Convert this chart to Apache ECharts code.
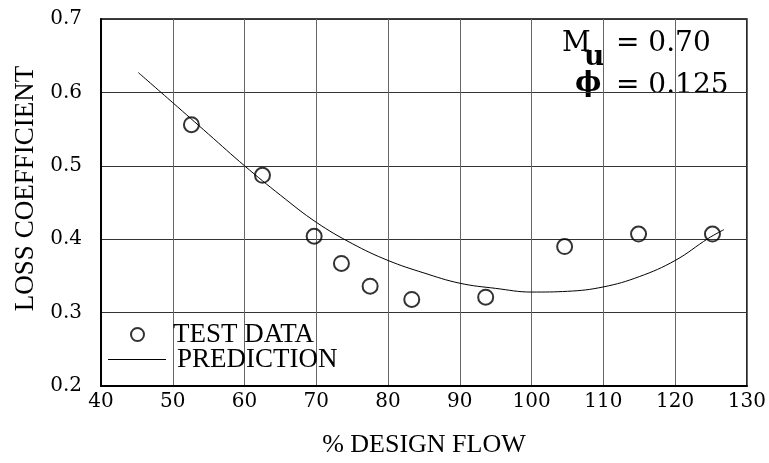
<!DOCTYPE html>
<html>
<head>
<meta charset="utf-8">
<script src="https://cdn.jsdelivr.net/npm/echarts@6/dist/echarts.min.js"></script>
<style>
html,body{margin:0;padding:0;background:#fff;}
#chart{width:769px;height:463px;}
</style>
</head>
<body>
<div id="chart"></div>
<script>
// Test data (x = % design flow, y = loss coefficient)
var testX = [52.6, 62.5, 69.7, 73.5, 77.5, 83.3, 93.6, 104.6, 114.9, 125.2];
var testY = [0.556, 0.487, 0.404, 0.367, 0.336, 0.318, 0.321, 0.390, 0.407, 0.407];
// Prediction curve
var predX = [45.2, 50, 55, 60, 65, 70, 75, 80, 85, 90, 95, 100, 105, 110, 115, 120, 124.6, 126.8];
var predY = [0.627, 0.586, 0.543, 0.500, 0.460, 0.423, 0.394, 0.371, 0.354, 0.340, 0.333, 0.328, 0.329, 0.335, 0.349, 0.371, 0.401, 0.413];
// Axis ticks
var xTicks = [40, 50, 60, 70, 80, 90, 100, 110, 120, 130];
var yTicks = [0.2, 0.3, 0.4, 0.5, 0.6, 0.7];

var serif = "'Liberation Serif', 'DejaVu Serif', serif";
var tickFont = "'DejaVu Serif', serif";

function pairs(xs, ys) { return xs.map(function (x, i) { return [x, ys[i]]; }); }

var chart = echarts.init(document.getElementById('chart'));
chart.setOption({
  animation: false,
  backgroundColor: '#fff',
  grid: { left: 101, right: 20, top: 19, bottom: 77, show: true, borderColor: '#000', borderWidth: 1.5 },
  xAxis: {
    type: 'value', min: xTicks[0], max: xTicks[xTicks.length - 1], interval: 10,
    name: '% DESIGN FLOW', nameLocation: 'middle', nameGap: 46,
    nameTextStyle: { fontFamily: serif, fontSize: 26, color: '#000' },
    axisLine: { lineStyle: { color: '#000', width: 2 } },
    axisTick: { show: false },
    axisLabel: { fontFamily: tickFont, fontSize: 20, color: '#000', margin: 6 },
    splitLine: { show: true, lineStyle: { color: '#666', width: 1 } }
  },
  yAxis: {
    type: 'value', min: yTicks[0], max: yTicks[yTicks.length - 1], interval: 0.1,
    name: 'LOSS COEFFICIENT', nameLocation: 'middle', nameGap: 53, nameRotate: 90,
    nameTextStyle: { fontFamily: serif, fontSize: 27, color: '#000', padding: [0, 0, 0, 28] },
    axisLine: { lineStyle: { color: '#000', width: 2 } },
    axisTick: { show: false },
    axisLabel: { fontFamily: tickFont, fontSize: 20, color: '#000', margin: 19,
      formatter: function (v) { return v.toFixed(1); } },
    splitLine: { show: true, lineStyle: { color: '#333', width: 1 } }
  },
  legend: [
    {
      data: ['TEST DATA'], left: 130, top: 321, padding: 0,
      itemWidth: 13, itemHeight: 13, icon: 'circle',
      itemStyle: { color: '#fff', borderColor: '#000', borderWidth: 2 },
      textStyle: { fontFamily: serif, fontSize: 27, color: '#000', padding: [0, 0, 0, 24] }
    },
    {
      data: ['PREDICTION'], left: 108, top: 346, padding: 0,
      itemWidth: 58, itemHeight: 1, icon: 'rect',
      itemStyle: { color: '#000', borderWidth: 0 },
      textStyle: { fontFamily: serif, fontSize: 27, color: '#000', padding: [0, 0, 0, 6] }
    }
  ],
  series: [
    {
      name: 'PREDICTION', type: 'line', data: pairs(predX, predY),
      smooth: 0.4, symbol: 'none', showSymbol: false,
      lineStyle: { color: '#000', width: 1 }, itemStyle: { color: '#000' }, z: 2
    },
    {
      name: 'TEST DATA', type: 'scatter', data: pairs(testX, testY),
      symbol: 'circle', symbolSize: 15,
      itemStyle: { color: 'rgba(0,0,0,0)', borderColor: '#000', borderWidth: 2 }, z: 3
    }
  ],
  graphic: [
    { type: 'text', left: 562, top: 30, style: { text: 'M', font: "28px 'DejaVu Serif'", fill: '#000' } },
    { type: 'text', left: 584, top: 44, style: { text: 'u', font: "bold 28px 'DejaVu Serif'", fill: '#000' } },
    { type: 'text', left: 616, top: 30, style: { text: '= 0.70', font: "28px 'DejaVu Serif'", fill: '#000' } },
    { type: 'text', left: 575, top: 70, style: { text: '\u03D5', font: "bold 28px 'DejaVu Serif'", fill: '#000' } },
    { type: 'text', left: 616, top: 72, style: { text: '= 0.125', font: "28px 'DejaVu Serif'", fill: '#000' } }
  ]
});
</script>
</body>
</html>
